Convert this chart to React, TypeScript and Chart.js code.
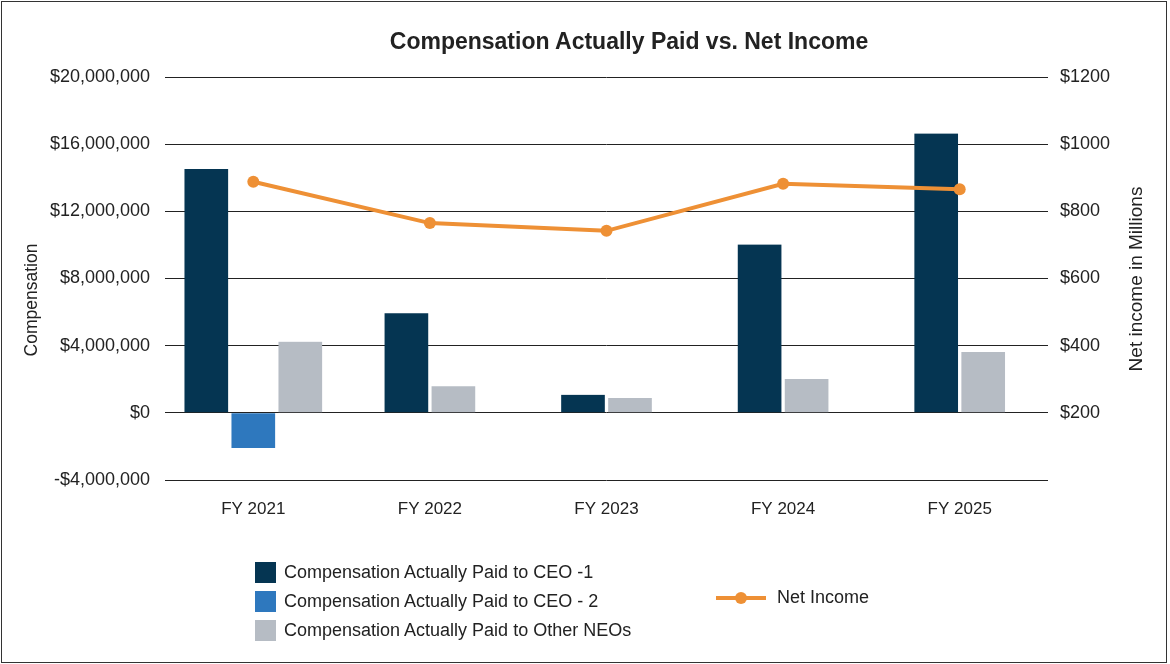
import { useEffect, useRef } from "react";
import { Chart, registerables } from "chart.js";

Chart.register(...registerables);

const years = ["FY 2021", "FY 2022", "FY 2023", "FY 2024", "FY 2025"];
const ceo1Paid = [14520000, 5930000, 1070000, 10020000, 16630000];
const ceo2Paid = [-2100000, null, null, null, null];
const otherNeosPaid = [4240000, 1580000, 890000, 2020000, 3630000];
const netIncome = [888, 765, 742, 882, 866];

const NAVY = "#053552";
const BLUE = "#2e78be";
const GRAY = "#b6bcc4";
const ORANGE = "#ee9035";
const FONT = '"Liberation Sans", Arial, sans-serif';

const money = (v: number) =>
  (v < 0 ? "-$" : "$") + Math.abs(v).toLocaleString("en-US");

const legendRows = [
  { label: "Compensation Actually Paid to CEO -1", color: NAVY, top: 562 },
  { label: "Compensation Actually Paid to CEO - 2", color: BLUE, top: 591 },
  { label: "Compensation Actually Paid to Other NEOs", color: GRAY, top: 620 },
];

export default function App() {
  const ref = useRef<HTMLCanvasElement>(null);

  useEffect(() => {
    document.body.style.margin = "0";
    if (!ref.current) return;

    const barStyle = {
      barThickness: 47,
      borderWidth: { left: 2, right: 2, top: 0, bottom: 0 },
      borderColor: "rgba(0,0,0,0)",
      skipNull: true,
      yAxisID: "y",
      order: 1,
    };

    const chart = new Chart(ref.current, {
      type: "bar",
      data: {
        labels: years,
        datasets: [
          { label: "Compensation Actually Paid to CEO -1", data: ceo1Paid, backgroundColor: NAVY, ...barStyle },
          { label: "Compensation Actually Paid to CEO - 2", data: ceo2Paid, backgroundColor: BLUE, ...barStyle },
          { label: "Compensation Actually Paid to Other NEOs", data: otherNeosPaid, backgroundColor: GRAY, ...barStyle },
          {
            type: "line",
            label: "Net Income",
            data: netIncome,
            yAxisID: "y1",
            borderColor: ORANGE,
            backgroundColor: ORANGE,
            borderWidth: 4,
            pointRadius: 6,
            pointBackgroundColor: ORANGE,
            pointBorderWidth: 0,
            tension: 0,
            order: 0,
          },
        ] as never,
      },
      options: {
        responsive: false,
        animation: false,
        layout: { padding: { top: 77, bottom: 124, left: 0, right: 0 } },
        plugins: { legend: { display: false }, tooltip: { enabled: false }, title: { display: false } },
        scales: {
          x: {
            grid: { display: false, drawTicks: false },
            border: { display: false },
            ticks: { color: "#222", font: { family: FONT, size: 17 }, padding: 19 },
            afterFit: (s) => {
              s.height = 60;
            },
          },
          y: {
            position: "left",
            min: -4000000,
            max: 20000000,
            grid: { color: "#222", lineWidth: 1, drawTicks: false },
            border: { display: false },
            ticks: {
              stepSize: 4000000,
              color: "#222",
              font: { family: FONT, size: 18 },
              padding: 15,
              callback: (v) => money(Number(v)),
            },
            afterFit: (s) => {
              s.width = 165;
            },
          },
          y1: {
            position: "right",
            min: 0,
            max: 1200,
            grid: { display: false, drawTicks: false },
            border: { display: false },
            ticks: {
              stepSize: 200,
              color: "#222",
              font: { family: FONT, size: 18 },
              padding: 12,
              callback: (v) => (Number(v) === 0 ? "" : "$" + v),
            },
            afterFit: (s) => {
              s.width = 122;
            },
          },
        },
      },
    });

    return () => chart.destroy();
  }, []);

  return (
    <div style={{ position: "absolute", left: 0, top: 0, width: 1170, height: 664, background: "#fff", fontFamily: FONT, color: "#222" }}>
      <canvas ref={ref} width={1170} height={664} style={{ position: "absolute", left: 0, top: 0 }} />
      <div
        style={{
          position: "absolute",
          left: 1,
          top: 1,
          width: 1166,
          height: 662,
          border: "1.5px solid #333",
          boxSizing: "border-box",
          pointerEvents: "none",
        }}
      />
      <div style={{ position: "absolute", left: 329, width: 600, top: 27, textAlign: "center", fontWeight: "bold", fontSize: 23, lineHeight: "28px" }}>
        Compensation Actually Paid vs. Net Income
      </div>
      <div
        style={{
          position: "absolute",
          left: 31,
          top: 300,
          transform: "translate(-50%, -50%) rotate(-90deg)",
          fontSize: 17.5,
          whiteSpace: "nowrap",
        }}
      >
        Compensation
      </div>
      <div
        style={{
          position: "absolute",
          left: 1136,
          top: 279,
          transform: "translate(-50%, -50%) rotate(-90deg)",
          fontSize: 19,
          whiteSpace: "nowrap",
        }}
      >
        Net income in Millions
      </div>
      {legendRows.map((r) => (
        <div key={r.label}>
          <div style={{ position: "absolute", left: 255, top: r.top, width: 21, height: 21, background: r.color }} />
          <div
            style={{
              position: "absolute",
              left: 284,
              top: r.top,
              height: 21,
              lineHeight: "21px",
              fontSize: 18,
              whiteSpace: "nowrap",
            }}
          >
            {r.label}
          </div>
        </div>
      ))}
      <div style={{ position: "absolute", left: 716, top: 596, width: 50, height: 4, background: ORANGE }} />
      <div style={{ position: "absolute", left: 735, top: 592, width: 12, height: 12, borderRadius: 6, background: ORANGE }} />
      <div
        style={{
          position: "absolute",
          left: 777,
          top: 587,
          height: 21,
          lineHeight: "21px",
          fontSize: 18,
          whiteSpace: "nowrap",
        }}
      >
        Net Income
      </div>
    </div>
  );
}
